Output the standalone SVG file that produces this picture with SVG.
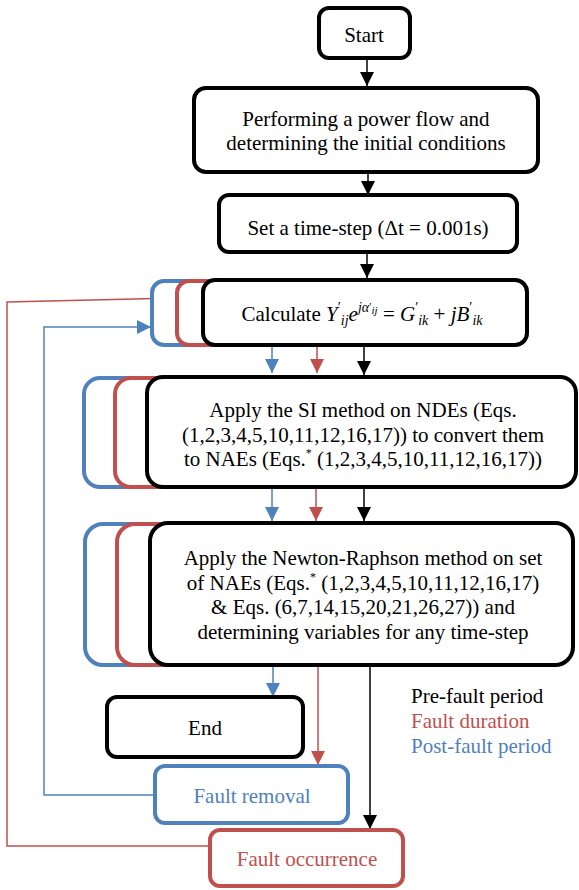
<svg xmlns="http://www.w3.org/2000/svg" width="579" height="890" viewBox="0 0 579 890">
<style>
.t{font-family:"Liberation Serif","Times New Roman",serif;font-size:21px;text-anchor:middle;fill:#000}
.m{font-style:italic}
.s{font-size:14px}
.bk{fill:#fff;stroke:#000;stroke-width:4}
.rd{fill:#fff;stroke:#C0504D;stroke-width:4}
.bl{fill:#fff;stroke:#4F81BD;stroke-width:4}
.ck{stroke:#000;stroke-width:1.5;fill:none}
.cr{stroke:#C0504D;stroke-width:1.5;fill:none}
.cb{stroke:#4F81BD;stroke-width:1.5;fill:none}
</style>
<defs>
<marker id="ak" markerUnits="userSpaceOnUse" markerWidth="14" markerHeight="14" viewBox="0 0 14 14" refX="14" refY="7" orient="auto"><path d="M0,0 L14,7 L0,14 Z" fill="#000"/></marker>
<marker id="ar" markerUnits="userSpaceOnUse" markerWidth="14" markerHeight="14" viewBox="0 0 14 14" refX="14" refY="7" orient="auto"><path d="M0,0 L14,7 L0,14 Z" fill="#C0504D"/></marker>
<marker id="ab" markerUnits="userSpaceOnUse" markerWidth="14" markerHeight="14" viewBox="0 0 14 14" refX="14" refY="7" orient="auto"><path d="M0,0 L14,7 L0,14 Z" fill="#4F81BD"/></marker>
</defs>

<g id="connectors">
<line class="ck" x1="367" y1="58" x2="367" y2="86" marker-end="url(#ak)"/>
<line class="ck" x1="368" y1="172" x2="368" y2="195" marker-end="url(#ak)"/>
<line class="ck" x1="367" y1="252" x2="367" y2="278" marker-end="url(#ak)"/>
<line class="cb" x1="272" y1="345" x2="272" y2="373" marker-end="url(#ab)"/>
<line class="cr" x1="317" y1="345" x2="317" y2="373" marker-end="url(#ar)"/>
<line class="ck" x1="364" y1="345" x2="364" y2="375" marker-end="url(#ak)"/>
<line class="cb" x1="272" y1="487" x2="272" y2="521" marker-end="url(#ab)"/>
<line class="cr" x1="316" y1="487" x2="316" y2="521" marker-end="url(#ar)"/>
<line class="ck" x1="364" y1="487" x2="364" y2="521" marker-end="url(#ak)"/>
<line class="cb" x1="273" y1="665" x2="273" y2="697" marker-end="url(#ab)"/>
<line class="cr" x1="318" y1="665" x2="318" y2="765" marker-end="url(#ar)"/>
<line class="ck" x1="370" y1="665" x2="370" y2="829" marker-end="url(#ak)"/>
<polyline class="cb" points="155,795 44,795 44,327 151,327" marker-end="url(#ab)"/>
<polyline class="cr" points="210,846 7,846 7,302 176,298" marker-end="url(#ar)"/>
</g>

<g id="start">
<rect class="bk" x="319" y="8" width="91" height="50" rx="10"/>
<text class="t" x="364" y="42">Start</text>
</g>

<g id="powerflow">
<rect class="bk" x="194" y="88" width="344" height="84" rx="12"/>
<text class="t" x="366" y="126">Performing a power flow and</text>
<text class="t" x="366" y="150">determining the initial conditions</text>
</g>

<g id="timestep">
<rect class="bk" x="219" y="195" width="298" height="57" rx="10"/>
<text class="t" x="368" y="235">Set a time-step (Δt = 0.001s)</text>
</g>

<g id="calculate">
<rect class="bl" x="152" y="281" width="300" height="64" rx="12"/>
<rect class="rd" x="177" y="281" width="300" height="64" rx="12"/>
<rect class="bk" x="203" y="280" width="324" height="65" rx="12"/>
<text class="t" x="362" y="321">Calculate <tspan class="m">Y</tspan><tspan class="s" dy="-9">′</tspan><tspan class="s m" dy="13">ij</tspan><tspan class="m" dy="-4">e</tspan><tspan class="s m" dy="-9">jα</tspan><tspan font-size="11" dy="-2">′</tspan><tspan class="m" font-size="11" dy="4">ij</tspan><tspan dy="7"> = </tspan><tspan class="m">G</tspan><tspan class="s" dy="-9">′</tspan><tspan class="s m" dy="13">ik</tspan><tspan dy="-4"> + </tspan><tspan class="m">jB</tspan><tspan class="s" dy="-9">′</tspan><tspan class="s m" dy="13">ik</tspan></text>
</g>

<g id="si">
<rect class="bl" x="84" y="378" width="400" height="109" rx="16"/>
<rect class="rd" x="115" y="378" width="400" height="109" rx="16"/>
<rect class="bk" x="147" y="377" width="429" height="110" rx="16"/>
<text class="t" x="363" y="417">Apply the SI method on NDEs (Eqs.</text>
<text class="t" x="363" y="442">(1,2,3,4,5,10,11,12,16,17)) to convert them</text>
<text class="t" x="363" y="466">to NAEs (Eqs.<tspan font-size="12" dy="-9">*</tspan><tspan dy="9"> (1,2,3,4,5,10,11,12,16,17))</tspan></text>
</g>

<g id="newton">
<rect class="bl" x="85" y="524" width="400" height="141" rx="18"/>
<rect class="rd" x="117" y="524" width="400" height="141" rx="18"/>
<rect class="bk" x="150" y="523" width="423" height="142" rx="18"/>
<text class="t" x="363" y="565">Apply the Newton-Raphson method on set</text>
<text class="t" x="363" y="590">of NAEs (Eqs.<tspan font-size="12" dy="-9">*</tspan><tspan dy="9"> (1,2,3,4,5,10,11,12,16,17)</tspan></text>
<text class="t" x="363" y="614">&amp; Eqs. (6,7,14,15,20,21,26,27)) and</text>
<text class="t" x="363" y="639">determining variables for any time-step</text>
</g>

<g id="end">
<rect class="bk" x="107" y="697" width="196" height="60" rx="10"/>
<text class="t" x="205" y="735">End</text>
</g>

<g id="fault-removal">
<rect class="bl" x="155" y="766" width="193" height="57" rx="10"/>
<text class="t" x="252" y="803" style="fill:#4F81BD">Fault removal</text>
</g>

<g id="fault-occurrence">
<rect class="rd" x="210" y="830" width="193" height="56" rx="10"/>
<text class="t" x="307" y="866" style="fill:#C0504D">Fault occurrence</text>
</g>

<g id="legend">
<text class="t" x="411" y="703" style="text-anchor:start">Pre-fault period</text>
<text class="t" x="411" y="728" style="text-anchor:start;fill:#C0504D">Fault duration</text>
<text class="t" x="411" y="753" style="text-anchor:start;fill:#4F81BD">Post-fault period</text>
</g>
</svg>
